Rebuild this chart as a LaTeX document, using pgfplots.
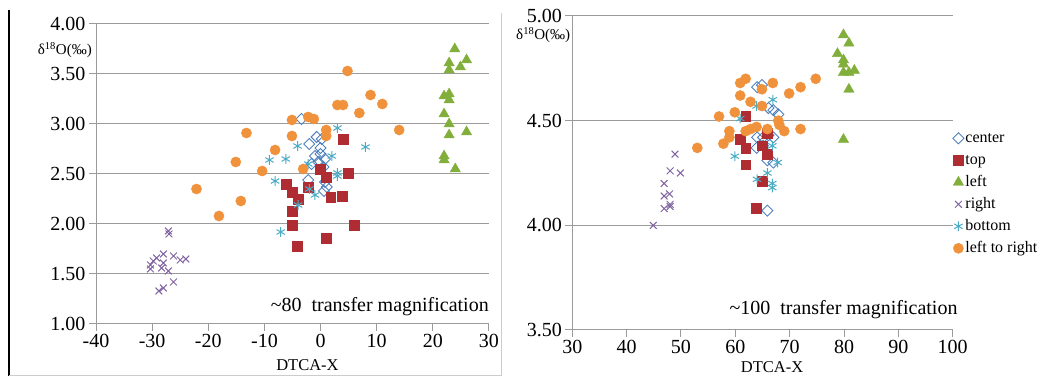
\documentclass[border=0pt]{standalone}
\usepackage{fontspec}
\setmainfont{Liberation Serif}
\usepackage{pgfplots}
\pgfplotsset{compat=1.18}
\definecolor{cCenter}{RGB}{79,129,189}
\definecolor{cTop}{RGB}{175,45,50}
\definecolor{cLeft}{RGB}{130,175,60}
\definecolor{cRight}{RGB}{128,100,162}
\definecolor{cBottom}{RGB}{75,172,198}
\definecolor{cLR}{RGB}{240,145,60}
\definecolor{gridc}{RGB}{155,155,155}
\pgfplotsset{
  panel/.style={
    scale only axis,
    axis lines=left,
    axis line style={-, gridc, line width=1pt},
    ymajorgrids,
    grid style={gridc, line width=1pt},
    tick align=outside,
    major tick length=7pt,
    tick style={gridc, line width=1pt},
    ticklabel style={font=\fontsize{20}{24}\selectfont, text=black},
    /pgf/number format/assume math mode=true,
    yticklabel style={/pgf/number format/fixed, /pgf/number format/fixed zerofill, /pgf/number format/precision=2},
    xticklabel style={/pgf/number format/fixed, /pgf/number format/precision=0},
    clip=false,
    legend image code/.code={\draw[mark repeat=2,mark phase=2] plot coordinates {(0pt,0pt) (4pt,0pt) (8pt,0pt)};},
  },
  sCenter/.style={only marks, mark=square, mark size=3.9pt, mark options={draw=cCenter, fill=none, line width=0.9pt, rotate=45}},
  sTop/.style={only marks, mark=square*, mark size=4.9pt, mark options={draw=cTop, fill=cTop}},
  sLeft/.style={only marks, mark=triangle*, mark size=6pt, mark options={draw=cLeft, fill=cLeft}},
  sRight/.style={only marks, mark=x, mark size=4.8pt, mark options={draw=cRight, line width=1pt}},
  sBottom/.style={only marks, mark=asterisk, mark size=4.8pt, mark options={draw=cBottom, line width=1pt}},
  sLR/.style={only marks, mark=*, mark size=5.1pt, mark options={draw=cLR, fill=cLR}},
}
\begin{document}
\begin{tikzpicture}
\path[use as bounding box] (0pt,0pt) rectangle (1042pt,377pt);
\draw[black, line width=1.5pt] (9pt,1pt) -- (9pt,367pt);
\draw[gray!40, line width=1pt] (9pt,1pt) -- (501pt,1pt) -- (501pt,364pt);
% ---------------- left panel ----------------
\begin{axis}[panel,
  at={(96pt,53pt)}, anchor=south west,
  width=393pt, height=300pt,
  xmin=-40, xmax=30, ymin=1, ymax=4,
  xtick={-40,-30,...,30}, ytick={1,1.5,...,4},
]
\addplot[sCenter] coordinates {(-3.4,3.05)(-2.0,2.80)(-0.7,2.87)(0.2,2.85)(0,2.76)(-1.0,2.68)(0,2.70)(0.8,2.65)(-1.6,2.60)(-0.4,2.62)(0.5,2.57)(0.8,2.42)(-2.2,2.44)(1.1,2.37)(0.6,2.33)};
\addplot[sTop] coordinates {(4.0,2.85)(4.9,2.51)(0,2.55)(1.0,2.47)(-6.1,2.40)(-5.1,2.32)(-4.0,2.25)(-2.2,2.37)(1.8,2.27)(3.9,2.28)(-5.1,2.13)(-5.1,1.99)(6.0,1.99)(1.0,1.86)(-4.1,1.78)};
\addplot[sLeft] coordinates {(23.9,3.75)(26.0,3.64)(22.9,3.61)(24.9,3.57)(22.9,3.54)(22.0,3.28)(22.9,3.30)(22.9,3.24)(22.0,3.10)(22.9,3.00)(22.9,2.89)(26.0,2.92)(22.0,2.68)(22.0,2.64)(24.0,2.55)};
\addplot[sRight] coordinates {(-27.1,1.93)(-27.0,1.90)(-28.0,1.70)(-29.8,1.63)(-29.2,1.66)(-26.2,1.68)(-25.0,1.64)(-24.0,1.65)(-30.3,1.55)(-28.3,1.56)(-27.1,1.53)(-28.0,1.61)(-28.8,1.33)(-28.0,1.36)(-26.2,1.42)(-30.3,1.59)};
\addplot[sBottom] coordinates {(3.0,2.96)(8.0,2.77)(-4.1,2.78)(-9.1,2.64)(-6.2,2.65)(2.0,2.68)(-2.2,2.60)(3.0,2.51)(3.0,2.48)(-8.1,2.43)(-2.0,2.35)(-1.0,2.29)(-4.0,2.19)(-7.1,1.92)};
\addplot[sLR] coordinates {(-22.1,2.35)(-18.1,2.08)(-14.2,2.23)(-15.1,2.62)(-13.2,2.91)(-10.4,2.53)(-8.1,2.74)(-5.1,3.04)(-5.1,2.88)(-3.1,2.55)(-2.2,3.07)(-1.2,3.05)(1.0,2.94)(1.0,2.88)(3.0,3.19)(4.0,3.19)(4.8,3.53)(6.9,3.11)(8.9,3.29)(11.0,3.20)(14.0,2.94)};
\node[anchor=east, font=\fontsize{15}{18}\selectfont, inner sep=0pt] at ([xshift=-4pt]rel axis cs:0,0.913) {δ\textsuperscript{18}O(‰)};
\node[font=\fontsize{16.5}{20}\selectfont, inner sep=0pt] at ([yshift=-41pt]rel axis cs:0.538,0) {DTCA-X};
\node[anchor=east, font=\fontsize{20}{24}\selectfont, inner sep=0pt] at (rel axis cs:1,0.058) {\textasciitilde80\ \ transfer magnification};
\end{axis}
% ---------------- right panel ----------------
\begin{axis}[panel,
  at={(572.3pt,47pt)}, anchor=south west,
  width=380.4pt, height=314pt,
  xmin=30, xmax=100, ymin=3.5, ymax=5,
  xtick={30,40,...,100}, ytick={3.5,4,4.5,5},
  legend style={at={(1,0.639)}, anchor=north west, draw=none, fill=none, inner sep=0pt,
    font=\fontsize{16}{18}\selectfont, row sep=4.5pt,
    nodes={inner sep=1.5pt, text height=11pt, text depth=3.5pt}},
  legend cell align=left,
]
\addplot[sCenter] coordinates {(64.0,4.66)(64.9,4.67)(66.1,4.56)(67.0,4.55)(67.9,4.53)(64.0,4.42)(65.1,4.42)(66.1,4.43)(67.0,4.42)(63.9,4.37)(65.1,4.38)(65.9,4.31)(67.0,4.30)(65.9,4.07)};
\addlegendentry{center}
\addplot[sTop] coordinates {(61.9,4.52)(60.9,4.41)(61.9,4.37)(61.9,4.29)(64.9,4.38)(65.9,4.34)(65.9,4.44)(64.9,4.21)(63.9,4.08)};
\addlegendentry{top}
\addplot[sLeft] coordinates {(79.9,4.91)(80.9,4.87)(78.8,4.82)(79.9,4.79)(79.9,4.77)(79.9,4.73)(80.9,4.73)(81.9,4.74)(80.9,4.65)(79.9,4.41)};
\addlegendentry{left}
\addplot[sRight] coordinates {(48.9,4.34)(48.0,4.26)(49.9,4.25)(46.9,4.20)(46.9,4.14)(47.9,4.15)(48.0,4.10)(46.9,4.08)(48.0,4.09)(44.9,4.00)};
\addlegendentry{right}
\addplot[sBottom] coordinates {(66.9,4.60)(63.9,4.57)(60.9,4.51)(66.8,4.38)(59.9,4.33)(67.8,4.30)(65.9,4.25)(64.0,4.22)(66.8,4.20)(66.8,4.18)};
\addlegendentry{bottom}
\addplot[sLR] coordinates {(53.0,4.37)(57.0,4.52)(57.8,4.39)(58.9,4.42)(58.9,4.45)(59.9,4.54)(60.9,4.62)(60.9,4.68)(61.9,4.70)(61.9,4.45)(62.8,4.59)(62.8,4.46)(63.9,4.47)(64.9,4.65)(64.9,4.57)(65.9,4.46)(66.9,4.68)(67.9,4.50)(68.1,4.48)(69.0,4.45)(69.9,4.63)(72.0,4.66)(72.0,4.46)(74.8,4.70)};
\addlegendentry{left to right}
\node[anchor=east, font=\fontsize{15}{18}\selectfont, inner sep=0pt] at ([xshift=-2pt]rel axis cs:0,0.939) {δ\textsuperscript{18}O(‰)};
\node[font=\fontsize{16.5}{20}\selectfont, inner sep=0pt] at ([yshift=-37pt]rel axis cs:0.525,0) {DTCA-X};
\node[anchor=east, font=\fontsize{20}{24}\selectfont, inner sep=0pt] at ([xshift=5pt]rel axis cs:1,0.064) {\textasciitilde100\ \ transfer magnification};
\end{axis}
\end{tikzpicture}
\end{document}
